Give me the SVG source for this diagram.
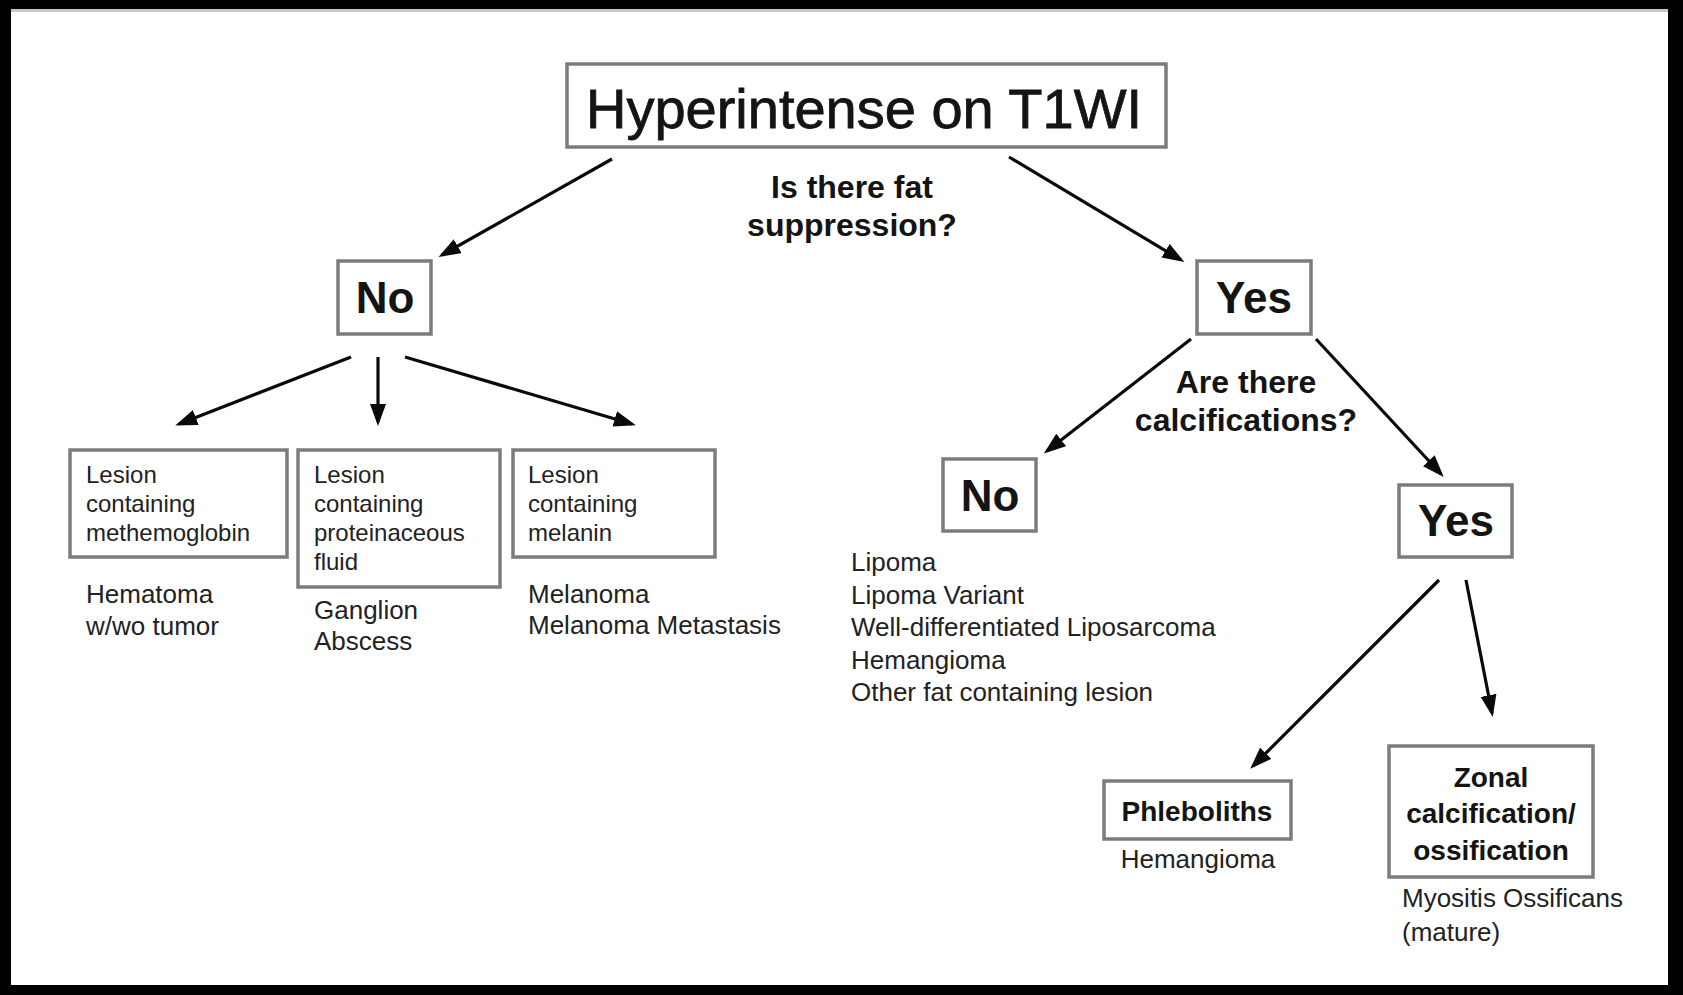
<svg xmlns="http://www.w3.org/2000/svg" width="1683" height="995" viewBox="0 0 1683 995">
<defs>
<marker id="ah" viewBox="0 0 22 16" refX="18" refY="8" markerWidth="22" markerHeight="16" orient="auto" markerUnits="userSpaceOnUse">
<path d="M0,0 L22,8 L0,16 z" fill="#0a0a0a"/>
</marker>
<style>
.box{fill:#fff;stroke:#7c7c7c;stroke-width:3.5}
.t{font-family:"Liberation Sans",Arial,sans-serif;fill:#141414}
.b{font-weight:bold}
.big{font-size:56px;stroke:#141414;stroke-width:0.8}
.yn{font-size:44px;font-weight:bold}
.q{font-size:32px;font-weight:bold}
.s{font-size:24px;fill:#222}
.m{font-size:26px;fill:#222}
.mb{font-size:28px;font-weight:bold}
.c{text-anchor:middle}
.arr{stroke:#0a0a0a;stroke-width:3.2;fill:none;marker-end:url(#ah)}
</style>
</defs>
<rect x="0" y="0" width="1683" height="995" fill="#000"/>
<rect x="11" y="9" width="1657" height="976" fill="#fff"/>
<rect x="11" y="9" width="1657" height="3" fill="#c8c8c8"/>

<g id="connectors">
<line class="arr" x1="612" y1="159" x2="442" y2="255"/>
<line class="arr" x1="1009" y1="157" x2="1181" y2="260"/>
<line class="arr" x1="351" y1="357" x2="179" y2="424"/>
<line class="arr" x1="378" y1="357" x2="378" y2="422"/>
<line class="arr" x1="405" y1="357" x2="632" y2="424"/>
<line class="arr" x1="1191" y1="339" x2="1047" y2="451"/>
<line class="arr" x1="1316" y1="339" x2="1441" y2="474"/>
<line class="arr" x1="1439" y1="580" x2="1253" y2="766"/>
<line class="arr" x1="1466" y1="580" x2="1492" y2="713"/>
</g>

<g id="title">
<rect class="box" x="567" y="64" width="599" height="83"/>
<text class="t big c" x="864" y="128">Hyperintense on T1WI</text>
</g>
<g id="q1">
<text class="t q c" x="852" y="198">Is there fat</text>
<text class="t q c" x="852" y="236">suppression?</text>
</g>

<g id="no1">
<rect class="box" x="338" y="261" width="93" height="73"/>
<text class="t yn c" x="385" y="313">No</text>
</g>
<g id="yes1">
<rect class="box" x="1197" y="261" width="114" height="73"/>
<text class="t yn c" x="1254" y="313">Yes</text>
</g>

<g id="lesion-methemoglobin">
<rect class="box" x="70" y="450" width="217" height="107"/>
<text class="t s" x="86" y="483">Lesion</text>
<text class="t s" x="86" y="512">containing</text>
<text class="t s" x="86" y="541">methemoglobin</text>
<text class="t m" x="86" y="603">Hematoma</text>
<text class="t m" x="86" y="635">w/wo tumor</text>
</g>
<g id="lesion-proteinaceous">
<rect class="box" x="298" y="450" width="202" height="137"/>
<text class="t s" x="314" y="483">Lesion</text>
<text class="t s" x="314" y="512">containing</text>
<text class="t s" x="314" y="541">proteinaceous</text>
<text class="t s" x="314" y="570">fluid</text>
<text class="t m" x="314" y="619">Ganglion</text>
<text class="t m" x="314" y="650">Abscess</text>
</g>
<g id="lesion-melanin">
<rect class="box" x="513" y="450" width="202" height="107"/>
<text class="t s" x="528" y="483">Lesion</text>
<text class="t s" x="528" y="512">containing</text>
<text class="t s" x="528" y="541">melanin</text>
<text class="t m" x="528" y="603">Melanoma</text>
<text class="t m" x="528" y="634">Melanoma Metastasis</text>
</g>

<g id="q2">
<text class="t q c" x="1246" y="393">Are there</text>
<text class="t q c" x="1246" y="431">calcifications?</text>
</g>

<g id="no2">
<rect class="box" x="943" y="459" width="93" height="72"/>
<text class="t yn c" x="990" y="511">No</text>
<text class="t m" x="851" y="571">Lipoma</text>
<text class="t m" x="851" y="604">Lipoma Variant</text>
<text class="t m" x="851" y="636">Well-differentiated Liposarcoma</text>
<text class="t m" x="851" y="669">Hemangioma</text>
<text class="t m" x="851" y="701">Other fat containing lesion</text>
</g>
<g id="yes2">
<rect class="box" x="1399" y="485" width="113" height="72"/>
<text class="t yn c" x="1456" y="536">Yes</text>
</g>

<g id="phleboliths">
<rect class="box" x="1104" y="781" width="187" height="58"/>
<text class="t mb c" x="1197" y="821">Phleboliths</text>
<text class="t m c" x="1198" y="868">Hemangioma</text>
</g>
<g id="zonal">
<rect class="box" x="1389" y="746" width="204" height="131"/>
<text class="t mb c" x="1491" y="787">Zonal</text>
<text class="t mb c" x="1491" y="823">calcification/</text>
<text class="t mb c" x="1491" y="860">ossification</text>
<text class="t m" x="1402" y="907">Myositis Ossificans</text>
<text class="t m" x="1402" y="941">(mature)</text>
</g>
</svg>
